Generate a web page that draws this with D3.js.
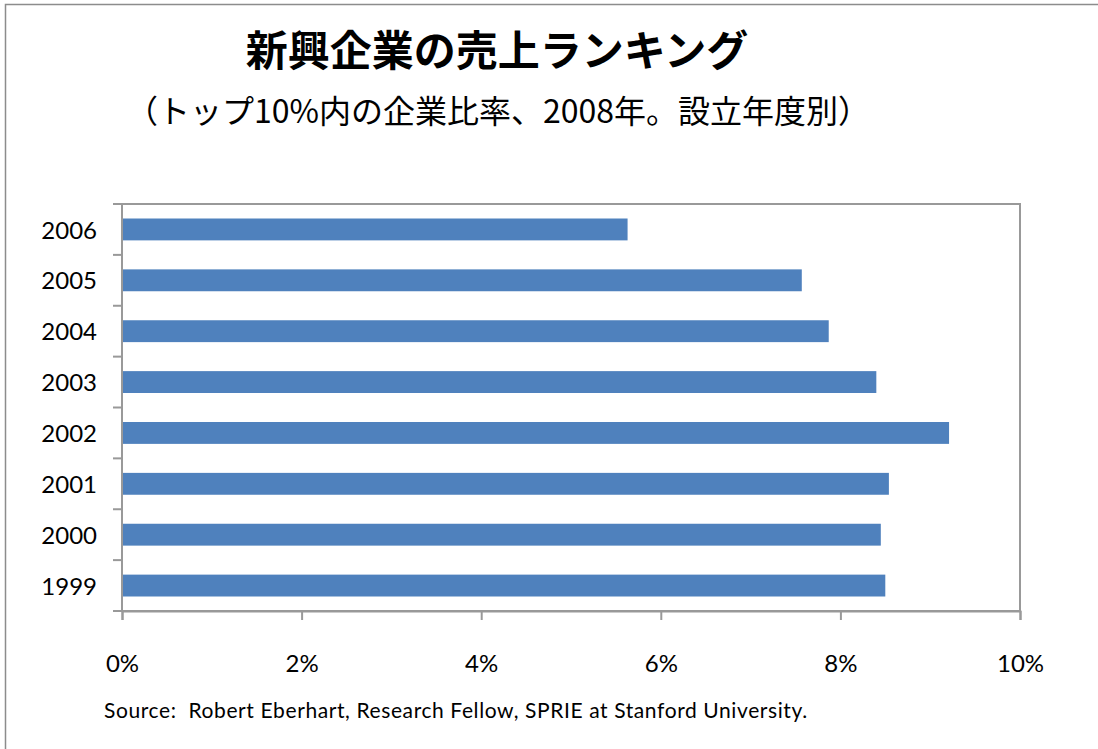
<!DOCTYPE html>
<html>
<head>
<meta charset="utf-8">
<script src="https://cdn.jsdelivr.net/npm/d3@7"></script>
<style>
  body { margin: 0; background: #fff; }
  svg { display: block; }
</style>
</head>
<body>
<svg id="chart"></svg>
<script>
let years = ["1999", "2000", "2001", "2002", "2003", "2004", "2005", "2006"];
let shares = [8.50, 8.45, 8.54, 9.21, 8.40, 7.87, 7.57, 5.63];
let xTicks = [0, 2, 4, 6, 8, 10];

let width = 1098;
let height = 749;
let plot = { left: 122, top: 204, right: 1020, bottom: 611 };

let svg = d3.select("#chart").attr("width", width).attr("height", height);

// outer frame of the chart
svg.append("rect")
  .attr("x", 5.5).attr("y", 4.5)
  .attr("width", width + 10).attr("height", height + 10)
  .attr("fill", "none").attr("stroke", "#8c8c8c").attr("stroke-width", 1.5);

let xScale = d3.scaleLinear().domain([0, 10]).range([plot.left, plot.right]);
let yScale = d3.scaleBand()
  .domain(years.slice().reverse())
  .range([plot.top, plot.bottom])
  .paddingInner(0.57).paddingOuter(0.285);

// plot area border
svg.append("rect")
  .attr("x", plot.left).attr("y", plot.top)
  .attr("width", plot.right - plot.left).attr("height", plot.bottom - plot.top)
  .attr("fill", "none").attr("stroke", "#999").attr("stroke-width", 2);

svg.selectAll(".bar")
  .data(years)
  .enter()
  .append("rect")
  .attr("class", "bar")
  .attr("x", xScale(0))
  .attr("y", (d) => yScale(d))
  .attr("width", (d, i) => xScale(shares[i]) - xScale(0))
  .attr("height", yScale.bandwidth())
  .attr("fill", "#4f81bd");

// x axis
let xAxis = d3.axisBottom(xScale).tickValues(xTicks).tickSize(9)
  .tickFormat((d) => d + "%");
let gx = svg.append("g")
  .attr("transform", "translate(0," + plot.bottom + ")")
  .call(xAxis);
gx.select(".domain").attr("stroke", "#999").attr("stroke-width", 2);
gx.selectAll(".tick line").attr("stroke", "#999").attr("stroke-width", 2);
gx.selectAll(".tick text")
  .attr("y", 44)
  .attr("fill", "#000")
  .style("font-family", "Lato, 'Open Sans', sans-serif")
  .style("font-size", "24px");

// y axis: ticks sit on the category boundaries
let step = yScale.step();
let boundaries = d3.range(years.length + 1).map((i) => plot.top + i * step);
svg.selectAll(".ytick")
  .data(boundaries)
  .enter()
  .append("line")
  .attr("x1", plot.left - 9).attr("x2", plot.left)
  .attr("y1", (d) => d).attr("y2", (d) => d)
  .attr("stroke", "#999").attr("stroke-width", 2);
svg.append("line")
  .attr("x1", plot.left).attr("x2", plot.left)
  .attr("y1", plot.top).attr("y2", plot.bottom)
  .attr("stroke", "#999").attr("stroke-width", 2);

svg.selectAll(".ylabel")
  .data(years)
  .enter()
  .append("text")
  .attr("x", 97)
  .attr("y", (d) => yScale(d) + yScale.bandwidth() / 2)
  .attr("dy", "0.38em")
  .attr("text-anchor", "end")
  .style("font-family", "Lato, 'Open Sans', sans-serif")
  .style("font-size", "24px")
  .text((d) => d);

// titles
svg.append("text")
  .attr("x", 497).attr("y", 66)
  .attr("text-anchor", "middle")
  .style("font-family", "'Noto Sans CJK JP', sans-serif")
  .style("font-weight", "bold")
  .style("font-size", "42px")
  .text("新興企業の売上ランキング");

svg.append("text")
  .attr("x", 498).attr("y", 123)
  .attr("text-anchor", "middle")
  .style("font-family", "'Noto Sans CJK JP', sans-serif")
  .style("font-size", "32px")
  .text("（トップ10%内の企業比率、2008年。設立年度別）");

svg.append("text")
  .attr("x", 104).attr("y", 718)
  .style("font-family", "Lato, 'Open Sans', sans-serif")
  .style("font-size", "21px")
  .style("letter-spacing", "0.6px")
  .style("white-space", "pre")
  .text("Source:  Robert Eberhart, Research Fellow, SPRIE at Stanford University.");
</script>
</body>
</html>
